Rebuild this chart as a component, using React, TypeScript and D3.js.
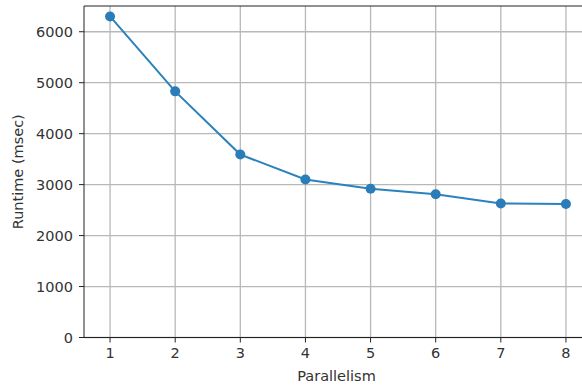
import React from "react";
import * as d3 from "d3";

const parallelism = [1, 2, 3, 4, 5, 6, 7, 8];
const runtimeMs = [6300, 4830, 3590, 3100, 2920, 2810, 2630, 2620];
const yTicks = [0, 1000, 2000, 3000, 4000, 5000, 6000];
const xTicks = [1, 2, 3, 4, 5, 6, 7, 8];

const W = 582;
const H = 385;
const left = 84;
const top = 6;
const bottom = 337.5;
const right = 592;

export default function App() {
  const x = d3.scaleLinear().domain([0.6, 8.4]).range([left, right]);
  const y = d3.scaleLinear().domain([0, 6505]).range([bottom, top]);
  const line = d3
    .line<number>()
    .x((_, i) => x(parallelism[i]))
    .y((d) => y(d));
  const font = "DejaVu Sans, sans-serif";
  const textColor = "#333";
  return (
    <svg
      width={W}
      height={H}
      style={{ position: "absolute", left: 0, top: 0, background: "#fff" }}
    >
      <defs>
        <clipPath id="plot">
          <rect x={left} y={top} width={right - left} height={bottom - top} />
        </clipPath>
      </defs>
      {/* grid */}
      <g stroke="#b8b8b8" strokeWidth={1.3}>
        {xTicks.map((t) => (
          <line key={"gx" + t} x1={x(t)} x2={x(t)} y1={top} y2={bottom} />
        ))}
        {yTicks.map((t) => (
          <line key={"gy" + t} x1={left} x2={right} y1={y(t)} y2={y(t)} />
        ))}
      </g>
      {/* series */}
      <g clipPath="url(#plot)">
        <path d={line(runtimeMs) || ""} fill="none" stroke="#2a82be" strokeWidth={2} />
        {runtimeMs.map((v, i) => (
          <circle key={i} cx={x(parallelism[i])} cy={y(v)} r={5} fill="#2a7db8" />
        ))}
      </g>
      {/* spines */}
      <g stroke="#222" strokeWidth={1}>
        <line x1={left} x2={left} y1={top} y2={bottom} />
        <line x1={left} x2={right} y1={bottom} y2={bottom} />
        <line x1={left} x2={right} y1={top} y2={top} />
      </g>
      {/* ticks and labels */}
      <g fontFamily={font} fontSize={14.5} fill={textColor}>
        {yTicks.map((t) => (
          <g key={"yt" + t}>
            <line x1={left - 5} x2={left} y1={y(t)} y2={y(t)} stroke="#222" />
            <text x={left - 11} y={y(t)} dy="0.35em" textAnchor="end">
              {t}
            </text>
          </g>
        ))}
        {xTicks.map((t) => (
          <g key={"xt" + t}>
            <line x1={x(t)} x2={x(t)} y1={bottom} y2={bottom + 5} stroke="#222" />
            <text x={x(t)} y={bottom + 20} textAnchor="middle">
              {t}
            </text>
          </g>
        ))}
        <text x={(left + 581) / 2 + 4} y={380.5} textAnchor="middle">
          Parallelism
        </text>
        <text
          transform={`translate(23, ${(top + bottom) / 2}) rotate(-90)`}
          textAnchor="middle"
        >
          Runtime (msec)
        </text>
      </g>
    </svg>
  );
}
